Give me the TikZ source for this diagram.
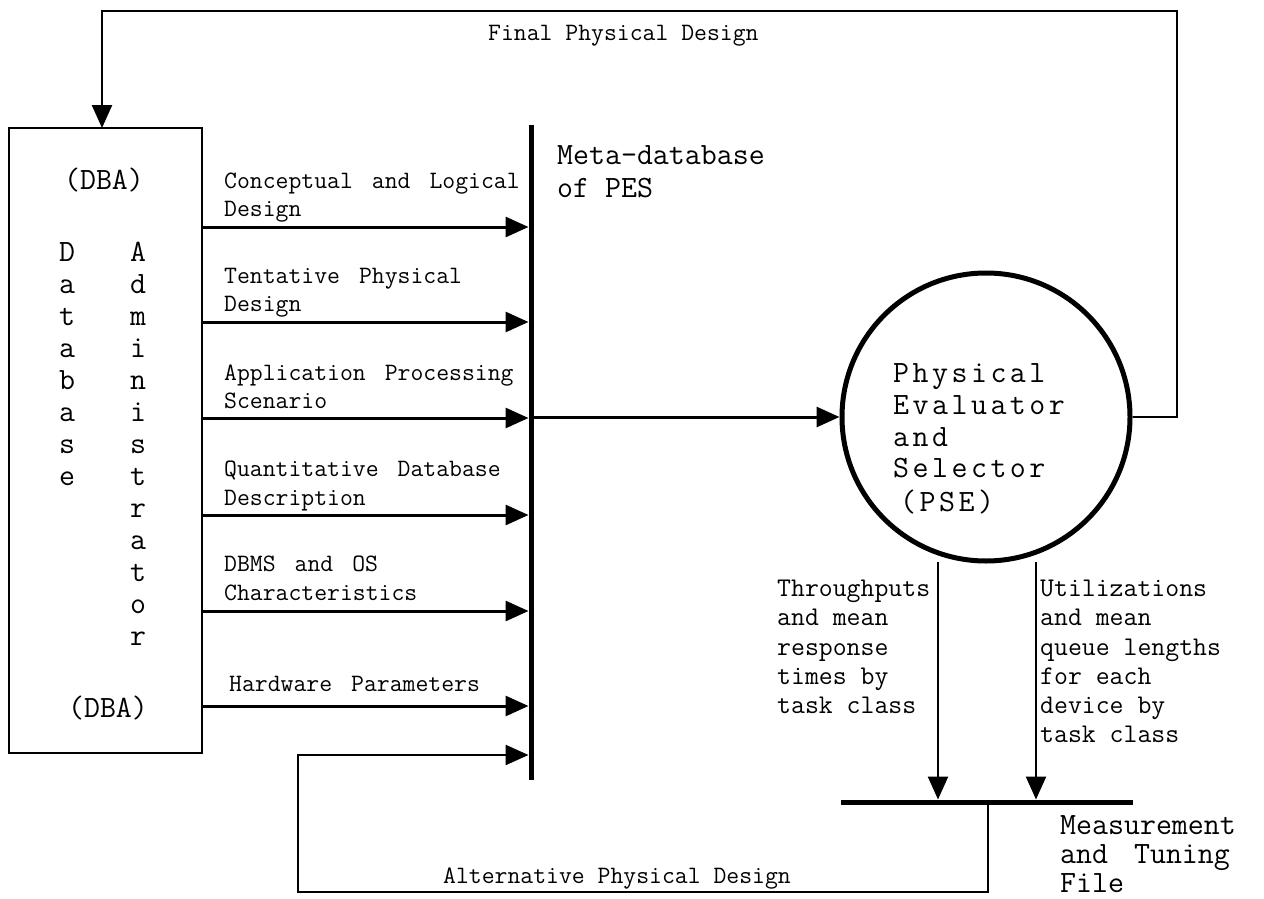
\documentclass[tikz,border=0pt]{standalone}
\usetikzlibrary{arrows.meta}
\newcommand\trk[1]{\trkA#1\relax}
\def\trkA#1{\ifx\relax#1\else#1\kern3.5pt\expandafter\trkA\fi}
\newcommand\wideA{\spaceskip 19pt\relax}
\newcommand\wideB{\spaceskip 26pt\relax}
\begin{document}
\begin{tikzpicture}[x=1pt,y=-1pt,
  conn/.style={line width=2.5pt},
  tip/.style={-{Triangle[length=23pt,width=20pt]}},
  arr/.style={line width=3pt,tip},
  lbl/.style={anchor=base west,inner sep=0pt,font=\ttfamily\fontsize{25}{30}\selectfont\wideA},
  lblb/.style={anchor=base west,inner sep=0pt,font=\ttfamily\fontsize{25}{30}\selectfont},
  big/.style={anchor=base west,inner sep=0pt,font=\ttfamily\fontsize{31}{35}\selectfont},
  bigw/.style={anchor=base west,inner sep=0pt,font=\ttfamily\fontsize{31}{35}\selectfont\wideB},
  letter/.style={anchor=base,inner sep=0pt,font=\ttfamily\fontsize{31}{35}\selectfont},
  small/.style={anchor=base west,inner sep=0pt,font=\ttfamily\fontsize{27}{30}\selectfont},
  bar/.style={fill=black,inner sep=0pt,outer sep=0pt}]
\fill[white] (0,0) rectangle (1264,899);
\useasboundingbox (0,0) rectangle (1264,899);

% main shapes
\node[draw,line width=2.5pt,minimum width=193pt,minimum height=625pt,inner sep=0pt,outer sep=0pt] (dba) at (105.5,440.5) {};
\node[bar,minimum width=5pt,minimum height=655pt] (meta) at (531,452.5) {};
\node[circle,draw,line width=5pt,minimum size=288pt,inner sep=0pt] (pse) at (986,417) {};
\node[bar,minimum width=292pt,minimum height=5pt] (mtf) at (987,802) {};

% helper coordinates
\coordinate (fbcorner) at (1177,11);
\coordinate (dbain) at (102,128);
\coordinate (mtfout) at (988,802);
\coordinate (altcorner) at (298,892);
\coordinate (t1) at (938,562);
\coordinate (u1) at (1036,562);

% connectors
\foreach \yy in {227,322,418,515,611,706}
  \draw[arr] (dba.east |- 0,\yy) -- (meta.west |- 0,\yy);
\draw[arr] (meta.center |- pse.west) -- (pse.west);
\draw[conn,tip] (pse.east) -| (fbcorner) -| (dbain);
\draw[arr,line width=2.5pt] (mtfout) |- (altcorner) |- (meta.west |- 0,755);
\draw[conn,tip] (t1) -- (t1 |- mtf.north);
\draw[conn,tip] (u1) -- (u1 |- mtf.north);

% arrow labels
\node[lbl] (l1a) at (224,188) {Conceptual and Logical};
\node[lbl] (l1b) at (224,216) {Design};
\node[lbl] (l2a) at (224,283) {Tentative Physical};
\node[lbl] (l2b) at (224,311) {Design};
\node[lbl] (l3a) at (224,380) {Application Processing};
\node[lbl] (l3b) at (224,408) {Scenario};
\node[lbl] (l4a) at (224,476) {Quantitative Database};
\node[lbl] (l4b) at (224,505) {Description};
\node[lbl] (l5a) at (224,571) {DBMS and OS};
\node[lbl] (l5b) at (224,600) {Characteristics};
\node[lbl] (l6a) at (229,691) {Hardware Parameters};
\node[lblb] (fpd) at (488,41) {Final Physical Design};
\node[lblb] (apd) at (443,883) {Alternative Physical Design};

% meta-database label
\node[big] (mdb1) at (557,164) {Meta-database};
\node[big] (mdb2) at (557,197) {of PES};

% DBA box text
\node[letter] (dbat) at (104,189) {(DBA)};
\node[letter] (dbab) at (108,717) {(DBA)};
\foreach \ch [count=\i] in {D,a,t,a,b,a,s,e}
  \node[letter] (db\i) at (67,{261+32*(\i-1)}) {\ch};
\foreach \ch [count=\i] in {A,d,m,i,n,i,s,t,r,a,t,o,r}
  \node[letter] (ad\i) at (138,{261+32*(\i-1)}) {\ch};

% circle text
\node[big] (pse1) at (893,382) {\trk{Physical}};
\node[big] (pse2) at (893,414) {\trk{Evaluator}};
\node[big] (pse3) at (893,446) {\trk{and}};
\node[big] (pse4) at (893,477) {\trk{Selector}};
\node[big] (pse5) at (900,511) {\trk{(PSE)}};

% output labels
\node[small] (tp1) at (777,596) {Throughputs};
\node[small] (tp2) at (777,625) {and mean};
\node[small] (tp3) at (777,655) {response};
\node[small] (tp4) at (777,684) {times by};
\node[small] (tp5) at (777,713) {task class};
\node[small] (ut1) at (1040,596) {Utilizations};
\node[small] (ut2) at (1040,625) {and mean};
\node[small] (ut3) at (1040,655) {queue lengths};
\node[small] (ut4) at (1040,684) {for each};
\node[small] (ut5) at (1040,713) {device by};
\node[small] (ut6) at (1040,742) {task class};

% measurement file label
\node[big] (mt1) at (1060,834) {Measurement};
\node[bigw] (mt2) at (1060,863) {and Tuning};
\node[big] (mt3) at (1060,892) {File};
\end{tikzpicture}
\end{document}
